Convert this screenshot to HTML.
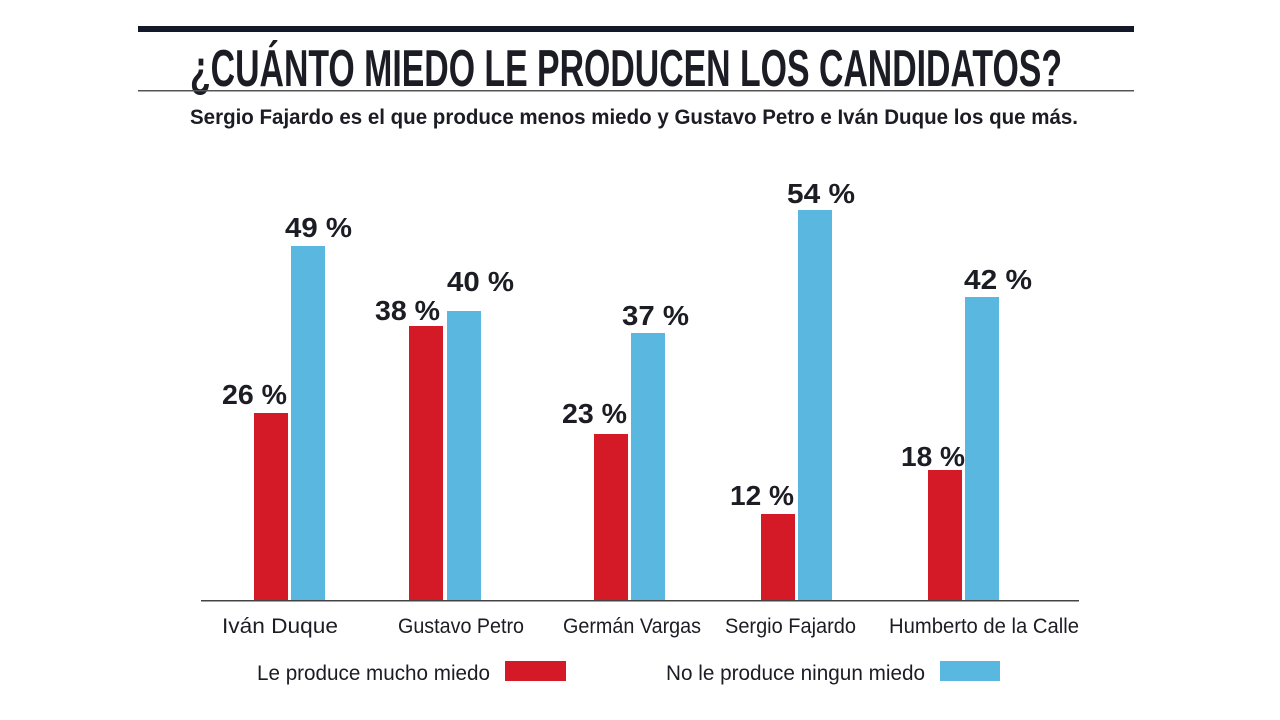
<!DOCTYPE html>
<html><head><meta charset="utf-8"><style>
html,body{margin:0;padding:0;background:#fff;}
svg{display:block;}
text{font-family:"Liberation Sans Narrow","Liberation Sans",sans-serif;fill:#1c1c24;}
.b{font-weight:bold;}
</style></head><body>
<svg width="1280" height="720" viewBox="0 0 1280 720">
<rect x="138" y="26" width="996" height="6" fill="#14192a"/>
<text class="b" x="190" y="86" font-size="52" textLength="872" lengthAdjust="spacingAndGlyphs">¿CUÁNTO MIEDO LE PRODUCEN LOS CANDIDATOS?</text>
<rect x="138" y="90" width="996" height="1.5" fill="#555"/>
<text class="b" x="190" y="124" font-size="21" textLength="888" lengthAdjust="spacingAndGlyphs">Sergio Fajardo es el que produce menos miedo y Gustavo Petro e Iván Duque los que más.</text>
<g fill="#d51a27">
<rect x="254" y="413" width="34" height="187"/>
<rect x="409" y="326" width="34" height="274"/>
<rect x="594" y="434" width="34" height="166"/>
<rect x="761" y="514" width="34" height="86"/>
<rect x="928" y="470" width="34" height="130"/>
</g>
<g fill="#5ab7df">
<rect x="291" y="246" width="34" height="354"/>
<rect x="447" y="311" width="34" height="289"/>
<rect x="631" y="333" width="34" height="267"/>
<rect x="798" y="210" width="34" height="390"/>
<rect x="965" y="297" width="34" height="303"/>
</g>
<rect x="201" y="600" width="878" height="1.5" fill="#444"/>
<g class="b" font-size="28">
<text class="b" x="285" y="237" textLength="67" lengthAdjust="spacingAndGlyphs">49 %</text>
<text class="b" x="222" y="404" textLength="65" lengthAdjust="spacingAndGlyphs">26 %</text>
<text class="b" x="375" y="320" textLength="65" lengthAdjust="spacingAndGlyphs">38 %</text>
<text class="b" x="447" y="291" textLength="67" lengthAdjust="spacingAndGlyphs">40 %</text>
<text class="b" x="562" y="423" textLength="65" lengthAdjust="spacingAndGlyphs">23 %</text>
<text class="b" x="622" y="325" textLength="67" lengthAdjust="spacingAndGlyphs">37 %</text>
<text class="b" x="730" y="505" textLength="64" lengthAdjust="spacingAndGlyphs">12 %</text>
<text class="b" x="787" y="203" textLength="68" lengthAdjust="spacingAndGlyphs">54 %</text>
<text class="b" x="901" y="466" textLength="64" lengthAdjust="spacingAndGlyphs">18 %</text>
<text class="b" x="964" y="289" textLength="68" lengthAdjust="spacingAndGlyphs">42 %</text>
</g>
<g font-size="21">
<text x="222" y="633" textLength="116" lengthAdjust="spacingAndGlyphs">Iván Duque</text>
<text x="398" y="633" textLength="126" lengthAdjust="spacingAndGlyphs">Gustavo Petro</text>
<text x="563" y="633" textLength="138" lengthAdjust="spacingAndGlyphs">Germán Vargas</text>
<text x="725" y="633" textLength="131" lengthAdjust="spacingAndGlyphs">Sergio Fajardo</text>
<text x="889" y="633" textLength="190" lengthAdjust="spacingAndGlyphs">Humberto de la Calle</text>
</g>
<text x="257" y="680" font-size="21" textLength="233" lengthAdjust="spacingAndGlyphs">Le produce mucho miedo</text>
<rect x="505" y="661" width="61" height="20" fill="#d51a27"/>
<text x="666" y="680" font-size="21" textLength="259" lengthAdjust="spacingAndGlyphs">No le produce ningun miedo</text>
<rect x="940" y="661" width="60" height="20" fill="#5ab7df"/>
</svg>
</body></html>
